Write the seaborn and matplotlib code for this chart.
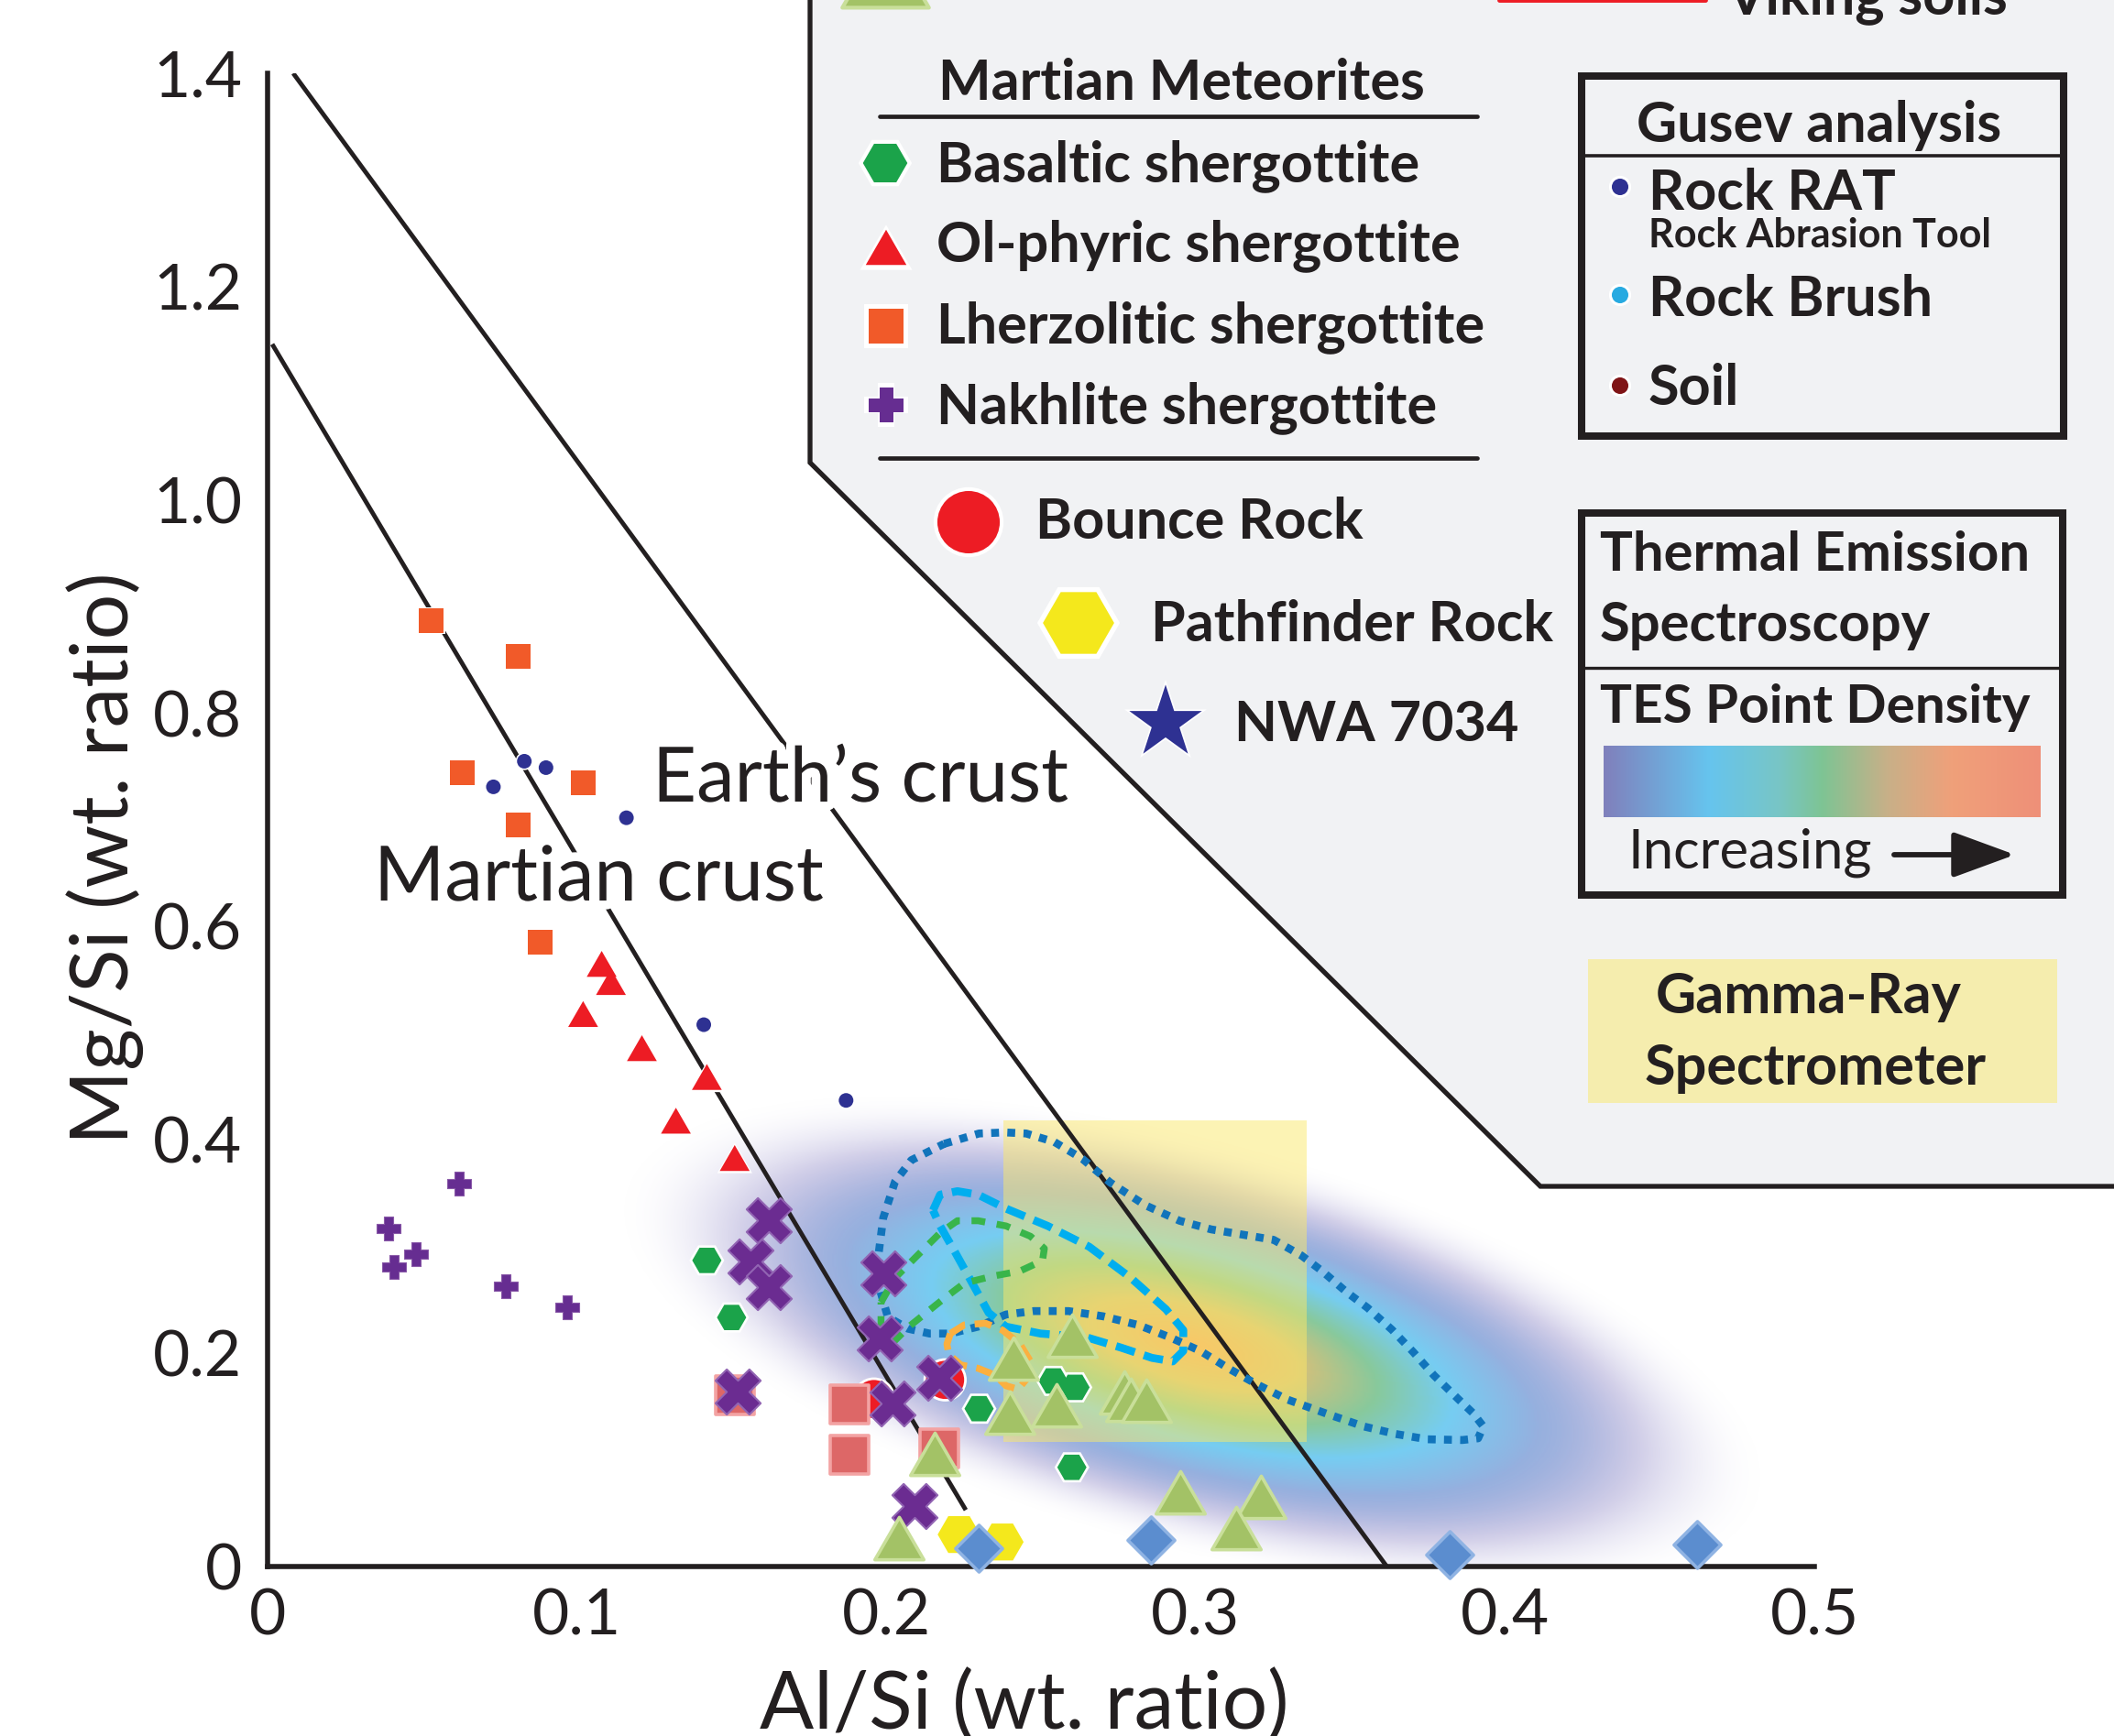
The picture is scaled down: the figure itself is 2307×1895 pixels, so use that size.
import numpy as np
import matplotlib
matplotlib.use('Agg')
import matplotlib.pyplot as plt
import seaborn as sns
from matplotlib.colors import LinearSegmentedColormap
from matplotlib.patches import Polygon, Rectangle
from matplotlib.path import Path
import matplotlib.patheffects as pe

# ---------------- data ----------------
XTICKS = [0, 0.1, 0.2, 0.3, 0.4, 0.5]
XTICK_LABELS = ['0', '0.1', '0.2', '0.3', '0.4', '0.5']
YTICKS = [0, 0.2, 0.4, 0.6, 0.8, 1.0, 1.2, 1.4]
YTICK_LABELS = ['0', '0.2', '0.4', '0.6', '0.8', '1.0', '1.2', '1.4']

earth_x = [0.0083, 0.3618]
earth_y = [1.4, 0.0]
mars_x = [0.0015, 0.2257]
mars_y = [1.146, 0.053]

lherz_x = [0.053, 0.081, 0.063, 0.102, 0.081, 0.088]
lherz_y = [0.887, 0.853, 0.744, 0.735, 0.695, 0.585]
rat_x = [0.083, 0.090, 0.073, 0.116, 0.141, 0.187]
rat_y = [0.755, 0.749, 0.731, 0.702, 0.508, 0.437]
olph_x = [0.108, 0.111, 0.102, 0.121, 0.142, 0.132, 0.151]
olph_y = [0.565, 0.548, 0.518, 0.486, 0.459, 0.418, 0.383]
nakh_x = [0.039, 0.062, 0.048, 0.041, 0.077, 0.097]
nakh_y = [0.317, 0.359, 0.293, 0.281, 0.263, 0.243]
basalt_x = [0.142, 0.150, 0.230, 0.254, 0.261, 0.260]
basalt_y = [0.287, 0.2335, 0.148, 0.174, 0.168, 0.093]
bigx_x = [0.162, 0.156, 0.162, 0.152, 0.199, 0.198, 0.217, 0.202, 0.209]
bigx_y = [0.325, 0.286, 0.262, 0.164, 0.275, 0.214, 0.177, 0.153, 0.057]
bounce_x = [0.196, 0.219]
bounce_y = [0.157, 0.175]
pink_x = [0.151, 0.188, 0.188, 0.217]
pink_y = [0.1605, 0.152, 0.105, 0.111]
tri_x = [0.241, 0.260, 0.240, 0.255, 0.277, 0.279, 0.284, 0.2155, 0.204, 0.295, 0.321, 0.313]
tri_y = [0.195, 0.2165, 0.144, 0.151, 0.1635, 0.156, 0.1555, 0.106, 0.027, 0.0695, 0.065, 0.036]
pathf_x = [0.2235, 0.2375]
pathf_y = [0.030, 0.023]
diam_x = [0.230, 0.2855, 0.382, 0.462]
diam_y = [0.017, 0.025, 0.0113, 0.0203]

gamma_x = [0.238, 0.336]
gamma_y = [0.117, 0.418]

tes_outer_x = [0.2187, 0.2300, 0.2384, 0.2452, 0.2543, 0.2634, 0.2724, 0.2836, 0.2948, 0.3050,
               0.3151, 0.3252, 0.3342, 0.3409, 0.3487, 0.3556, 0.3635, 0.3703, 0.3771, 0.3850,
               0.3896, 0.3930, 0.3913, 0.3862, 0.3748, 0.3646, 0.3544, 0.3431, 0.3297, 0.3196,
               0.3106, 0.3016, 0.2915, 0.2814, 0.2701, 0.2589, 0.2477, 0.2387, 0.2297, 0.2207,
               0.2140, 0.2070, 0.2005, 0.1980, 0.1975, 0.1990, 0.2028, 0.2081]
tes_outer_y = [0.3963, 0.4060, 0.4070, 0.4060, 0.3981, 0.3822, 0.3600, 0.3389, 0.3242, 0.3161,
               0.3112, 0.3063, 0.2916, 0.2770, 0.2575, 0.2425, 0.2219, 0.2012, 0.1790, 0.1567,
               0.1440, 0.1313, 0.1202, 0.1186, 0.1193, 0.1243, 0.1313, 0.1425, 0.1565, 0.1711,
               0.1858, 0.2020, 0.2151, 0.2265, 0.2346, 0.2395, 0.2395, 0.2363, 0.2249, 0.2184,
               0.2184, 0.2230, 0.2340, 0.2589, 0.2928, 0.3268, 0.3607, 0.3810]
cyan_x = [0.2151, 0.2174, 0.2230, 0.2297, 0.2387, 0.2522, 0.2656, 0.2791, 0.2904, 0.2960, 0.2960,
          0.2926, 0.2859, 0.2758, 0.2645, 0.2499, 0.2387, 0.2331, 0.2275, 0.2219, 0.2174]
cyan_y = [0.3340, 0.3486, 0.3519, 0.3486, 0.3356, 0.3193, 0.2998, 0.2705, 0.2412, 0.2216, 0.2021,
          0.1923, 0.1956, 0.2053, 0.2151, 0.2184, 0.2249, 0.2379, 0.2672, 0.2965, 0.3193]
green_x = [0.1983, 0.2028, 0.2095, 0.2174, 0.2230, 0.2297, 0.2387, 0.2466, 0.2511, 0.2505, 0.2432,
           0.2342, 0.2252, 0.2185, 0.2129, 0.2073, 0.2028, 0.1983]
green_y = [0.2477, 0.2705, 0.2900, 0.3128, 0.3242, 0.3242, 0.3193, 0.3096, 0.2982, 0.2868, 0.2770,
           0.2721, 0.2656, 0.2509, 0.2379, 0.2249, 0.2119, 0.2281]
orange_x = [0.2207, 0.2252, 0.2320, 0.2376, 0.2432, 0.2466, 0.2454, 0.2426, 0.2387, 0.2353, 0.2297,
            0.2241, 0.2202, 0.2196]
orange_y = [0.2184, 0.2265, 0.2281, 0.2216, 0.2086, 0.1923, 0.1760, 0.1662, 0.1695, 0.1793, 0.1858,
            0.1890, 0.1988, 0.2086]

# TES point-density blob (centre in data units, axes in screen pixels)
TES_CX, TES_CY = 0.299, 0.208
TES_A_PX, TES_B_PX, TES_ANGLE = 650.0, 225.0, -15.0

# ---------------- style ----------------
sns.set_style('white')
plt.rcParams['font.family'] = ['Lato', 'DejaVu Sans']
INK = '#231f20'

W, H = 2307, 1895
fig = plt.figure(figsize=(W / 100, H / 100), dpi=100)
AX_L, AX_R, AX_T, AX_B = 292, 1980, 80, 1710
ax = fig.add_axes([AX_L / W, 1 - AX_B / H, (AX_R - AX_L) / W, (AX_B - AX_T) / H])
PX_X = (AX_R - AX_L) / 0.5
PX_Y = (AX_B - AX_T) / 1.4

# density field
gx = np.linspace(0, 0.5, 700)
gy = np.linspace(0, 0.5, 700)
GX, GY = np.meshgrid(gx, gy)
dxp = (GX - TES_CX) * PX_X
dyp = (GY - TES_CY) * PX_Y
ang = np.deg2rad(TES_ANGLE)
uu = dxp * np.cos(ang) + dyp * np.sin(ang)
ww = -dxp * np.sin(ang) + dyp * np.cos(ang)
rr = np.sqrt((uu / TES_A_PX) ** 2 + (ww / TES_B_PX) ** 2)
vv = np.clip(1 - rr, 0, 1)
dens_cmap = LinearSegmentedColormap.from_list('tes', [
    (0.00, '#cfcbe8'), (0.22, '#aca7d6'), (0.40, '#95b0df'), (0.55, '#76cdf2'),
    (0.68, '#88c99c'), (0.82, '#d6c07a'), (1.00, '#f6a864')])
rgba = dens_cmap(vv)
fade = np.clip((1 - rr) / 0.42, 0, 1)
rgba[..., 3] = fade * fade * (3 - 2 * fade)
ax.imshow(rgba, extent=(0, 0.5, 0, 0.5), origin='lower', aspect='auto',
          interpolation='bilinear', zorder=0.5)

ax.add_patch(Rectangle((gamma_x[0], gamma_y[0]), gamma_x[1] - gamma_x[0], gamma_y[1] - gamma_y[0],
                       facecolor='#fbe86a', alpha=0.5, edgecolor='none', zorder=0.8))

ax.plot(earth_x, earth_y, color=INK, lw=3.5, zorder=2, solid_capstyle='butt')
ax.plot(mars_x, mars_y, color=INK, lw=3.5, zorder=2, solid_capstyle='butt')


def closed(xs, ys):
    return list(xs) + [xs[0]], list(ys) + [ys[0]]


cx, cy = closed(tes_outer_x, tes_outer_y)
ax.plot(cx, cy, color='#1174bb', lw=6.2, ls=(0, (1, 1.05)), dash_capstyle='butt', zorder=2.5)
cx, cy = closed(cyan_x, cyan_y)
ax.plot(cx, cy, color='#00aeef', lw=6.2, ls=(0, (2.5, 1.2)), dash_capstyle='butt', zorder=2.5)
cx, cy = closed(green_x, green_y)
ax.plot(cx, cy, color='#39b54a', lw=5.4, ls=(0, (2.0, 1.7)), dash_capstyle='butt', zorder=2.5)
cx, cy = closed(orange_x, orange_y)
ax.plot(cx, cy, color='#fbb040', lw=5.4, ls=(0, (2.5, 1.4)), dash_capstyle='butt', zorder=2.5)

TRI = Path([(0, 0.866), (-1, -0.866), (1, -0.866), (0, 0.866)], closed=True)
_a = 0.4
PLUS = Path([(-_a, -1), (_a, -1), (_a, -_a), (1, -_a), (1, _a), (_a, _a), (_a, 1), (-_a, 1),
             (-_a, _a), (-1, _a), (-1, -_a), (-_a, -_a), (-_a, -1)], closed=True)


def pts(x, y, marker, m, fc, ec='none', lw=0.0, z=3, halo=0.0):
    """Scatter via seaborn; m = visible marker size in points; optional white halo."""
    if halo > 0:
        sns.scatterplot(x=x, y=y, ax=ax, marker=marker, s=(m + 2 * halo) ** 2, color='white',
                        edgecolor='none', linewidth=0, zorder=z - 0.01, clip_on=False, legend=False)
    sns.scatterplot(x=x, y=y, ax=ax, marker=marker, s=m ** 2, color=fc, edgecolor=ec,
                    linewidth=lw, zorder=z, clip_on=False, legend=False)


pts(lherz_x, lherz_y, 's', 19.5, '#f15a29', z=3.0, halo=0.8)
pts(rat_x, rat_y, 'o', 11.5, '#2e3192', z=3.05, halo=1.2)
pts(olph_x, olph_y, TRI, 23.5, '#ed1c24', z=3.1, halo=2.0)
pts(nakh_x, nakh_y, PLUS, 19.0, '#662d91', ec='#8a5aa8', lw=0.8, z=3.15)
pts(basalt_x, basalt_y, 'H', 23.0, '#1ba34a', z=3.2, halo=2.2)
pts(bounce_x, bounce_y, 'o', 30.0, '#ed1c24', z=3.4, halo=2.0)
pts(pink_x, pink_y, 's', 30.0, '#dd6767', ec='#f3a3a3', lw=2.6, z=3.5)
pts(bigx_x, bigx_y, 'X', 35.5, '#6b2c91', ec='#9265b3', lw=1.5, z=3.6)
pts(tri_x, tri_y, TRI, 38.5, '#a3c266', ec='#c9df9a', lw=2.6, z=3.7)
pts(pathf_x, pathf_y, 'H', 33.5, '#f4e81c', z=3.8)
pts(diam_x, diam_y, 'D', 26.0, '#5b8dcf', ec='#8fb3e3', lw=2.6, z=3.9)

ax.set_xlim(0, 0.5)
ax.set_ylim(0, 1.4)
ax.set_xticks(XTICKS)
ax.set_xticklabels(XTICK_LABELS)
ax.set_yticks(YTICKS)
ax.set_yticklabels(YTICK_LABELS)
ax.set_xticks(np.arange(0, 0.5001, 0.02), minor=True)
ax.set_yticks(np.arange(0, 1.4001, 0.05), minor=True)
ax.tick_params(which='major', direction='in', length=21, width=3.9, color=INK,
               labelsize=50, labelcolor=INK)
ax.tick_params(which='minor', direction='in', length=13, width=3.9, color=INK)
ax.tick_params(axis='x', which='major', pad=17)
ax.tick_params(axis='y', which='major', pad=20)
for sp in ['top', 'right']:
    ax.spines[sp].set_visible(False)
for sp in ['left', 'bottom']:
    ax.spines[sp].set_linewidth(4.0)
    ax.spines[sp].set_color(INK)
    ax.spines[sp].set_capstyle('projecting')
ax.patch.set_alpha(0)
ax.grid(False)

ax.set_xlabel('Al/Si (wt. ratio)', fontsize=63, color=INK)
ax.xaxis.set_label_coords(1118 / W, 1 - 1887 / H, transform=fig.transFigure)
ax.xaxis.label.set_verticalalignment('baseline')
ax.set_ylabel('Mg/Si (wt. ratio)', fontsize=63, color=INK)
ax.yaxis.set_label_coords(140 / W, 1 - 937 / H, transform=fig.transFigure)
ax.yaxis.label.set_rotation_mode('anchor')
ax.yaxis.label.set_verticalalignment('baseline')
ax.yaxis.label.set_horizontalalignment('center')

# ---------------- overlay (legend, annotations) in pixel coordinates ----------------
ov = fig.add_axes([0, 0, 1, 1], zorder=5)
ov.set_xlim(0, W)
ov.set_ylim(H, 0)
ov.axis('off')
ov.patch.set_alpha(0)

halo_fx = [pe.withStroke(linewidth=14, foreground='white')]
ov.text(712, 875, 'Earth\u2019s crust', fontsize=60, color=INK, va='baseline', path_effects=halo_fx)
ov.text(408, 983, 'Martian crust', fontsize=60, color=INK, va='baseline', path_effects=halo_fx)

ov.add_patch(Polygon([(884, -20), (884, 505), (1681, 1295), (2340, 1295), (2340, -20)], closed=True,
                     facecolor='#f1f2f4', edgecolor=INK, lw=3.8, zorder=1))


def lt(x, y, s, size=44, weight='bold', ha='left'):
    ov.text(x, y, s, fontsize=size, fontweight=weight, ha=ha, va='baseline', color=INK, zorder=4)


def lm(x, y, marker, m, fc, halo=0.0, ec='none', lw=0.0):
    if halo > 0:
        ov.scatter([x], [y], marker=marker, s=(m + 2 * halo) ** 2, c='white', edgecolors='none',
                   zorder=2.9, clip_on=False)
    ov.scatter([x], [y], marker=marker, s=m ** 2, c=fc, edgecolors=ec, linewidths=lw,
               zorder=3, clip_on=False)


# cut-off first row
lm(966, -33, TRI, 68, '#a3c266', ec='#c9df9a', lw=3)
ov.plot([1636, 1861], [0, 0], color='#ed1c24', lw=3.5, zorder=3)
lt(1884, 15, 'Viking soils')

lt(1024, 109, 'Martian Meteorites')
ov.plot([960, 1612], [127, 127], color=INK, lw=3.4, zorder=3)
lt(1022, 198, 'Basaltic shergottite')
lm(966, 178, 'H', 35.0, '#1ba34a', halo=3.5)
lt(1022, 285, 'Ol-phyric shergottite')
lm(967, 270, TRI, 32.0, '#ed1c24', halo=4.5)
lt(1022, 374, 'Lherzolitic shergottite')
lm(967, 356, 's', 28.0, '#f15a29', halo=3.5)
lt(1022, 462, 'Nakhlite shergottite')
lm(967, 442, PLUS, 27.0, '#662d91', halo=3.5)
ov.plot([960, 1612], [500, 500], color=INK, lw=3.4, zorder=3)
lt(1130, 588, 'Bounce Rock')
lm(1057, 570, 'o', 49.0, '#ed1c24', halo=3.0)
lt(1256, 700, 'Pathfinder Rock')
lm(1177, 680, 'H', 56.0, '#f4e81c', halo=4.5)
lt(1347, 809, 'NWA 7034')
lm(1272, 789, '*', 60.0, '#2e3192', halo=4.0)

# Gusev box
ov.add_patch(Rectangle((1726, 83), 2252 - 1726, 476 - 83, facecolor='none', edgecolor=INK, lw=5.8, zorder=3))
ov.plot([1726, 2252], [170, 170], color=INK, lw=2.6, zorder=3)
lt(1985, 155, 'Gusev analysis', ha='center')
lm(1768, 204, 'o', 13.0, '#2e3192', halo=2.2)
lt(1799, 229, 'Rock RAT')
lt(1799, 270, 'Rock Abrasion Tool', size=31)
lm(1768, 322, 'o', 13.0, '#27aae1', halo=2.2)
lt(1799, 345, 'Rock Brush')
lm(1768, 421, 'o', 13.0, '#7f1416', halo=2.2)
lt(1799, 442, 'Soil')

# TES box
ov.add_patch(Rectangle((1726, 560), 2251 - 1726, 977 - 560, facecolor='none', edgecolor=INK, lw=5.8, zorder=3))
ov.plot([1726, 2251], [729, 729], color=INK, lw=2.4, zorder=3)
lt(1746, 623, 'Thermal Emission', size=43)
lt(1746, 700, 'Spectroscopy', size=43)
lt(1746, 789, 'TES Point Density', size=42)
bar_cmap = LinearSegmentedColormap.from_list('bar', [
    (0.00, '#8080bc'), (0.24, '#66c4ee'), (0.40, '#78c6c6'), (0.50, '#7ec494'),
    (0.65, '#c8b088'), (0.80, '#f0a07a'), (1.00, '#ee9078')])
ov.imshow(np.linspace(0, 1, 256)[None, :], cmap=bar_cmap, extent=(1750, 2227, 892, 814),
          aspect='auto', zorder=3)
lt(1777, 948, 'Increasing', size=43, weight='normal')
ov.annotate('', xy=(2199, 933), xytext=(2067, 933),
            arrowprops=dict(arrowstyle='-|>,head_length=0.6,head_width=0.22', lw=4.2,
                            color=INK, mutation_scale=70, shrinkA=0, shrinkB=0), zorder=4)

# Gamma-ray box
ov.add_patch(Rectangle((1733, 1047), 2245 - 1733, 1204 - 1047, facecolor='#f5edae', edgecolor='none', zorder=2))
lt(1974, 1106, 'Gamma-Ray', ha='center')
lt(1981, 1184, 'Spectrometer', ha='center')

ov.set_xlim(0, W)
ov.set_ylim(H, 0)

fig.savefig('out.png', dpi=100)
